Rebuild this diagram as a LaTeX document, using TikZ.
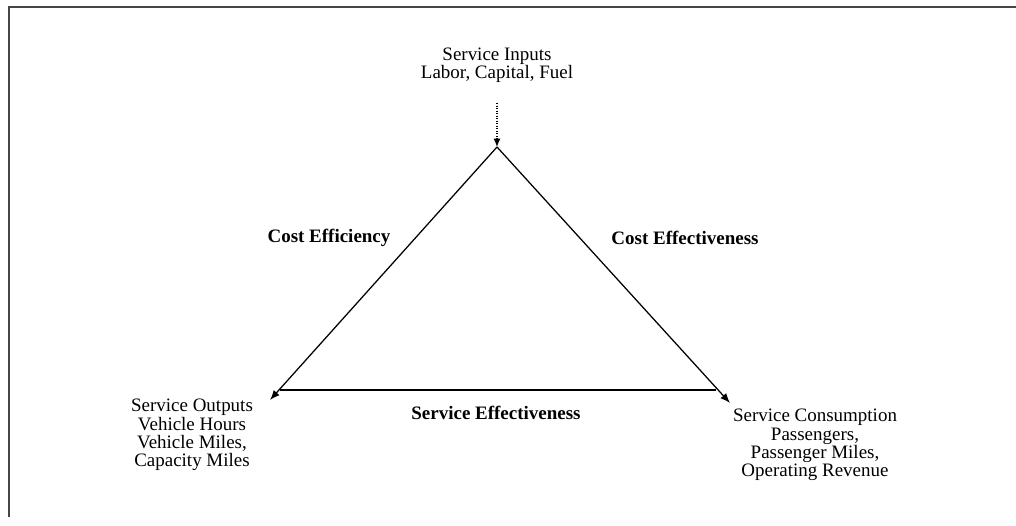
\documentclass[tikz,border=0pt]{standalone}
\usepackage{fontspec}
\setmainfont{Liberation Serif}
\usepackage{tikz}
\usetikzlibrary{arrows.meta}
\definecolor{frameline}{RGB}{70,70,70}

\begin{document}
\begin{tikzpicture}[
    txt/.style={align=center, font=\fontsize{13.5}{13}\selectfont, inner sep=1pt},
    lbl/.style={font=\fontsize{13.5}{13}\selectfont\bfseries, inner sep=1pt},
    arrow/.style={-{Latex[length=7pt,width=5.5pt]}, line width=0.9pt},
    feed/.style={-{Latex[length=6pt,width=5pt]}, densely dotted, line width=0.8pt}
]
    \useasboundingbox (0,0) rectangle (25.4,13.125);

    % Frame
    \draw[frameline, line width=1pt] (0.225,0.2) -- (0.225,12.95) -- (25.4,12.95);

    % Corners of the triangle
    \coordinate (top) at (12.425,9.45);
    \coordinate (left) at (6.75,3.125);
    \coordinate (right) at (18.25,3.05);
    \coordinate (bl) at (7.0,3.375);
    \coordinate (br) at (17.9,3.375);
    \coordinate (feedstart) at (12.425,10.55);

    % Service inputs
    \node[txt] (inputs) at (12.425,11.5) {Service Inputs\\Labor, Capital, Fuel};
    \draw[feed] (feedstart) -- (top);

    % Sides
    \draw[arrow] (top) -- (left);
    \draw[arrow] (top) -- (right);
    \draw[line width=0.9pt] (bl) -- (br);

    % Side labels
    \node[lbl] (costeff) at (8.225,7.175) {Cost Efficiency};
    \node[lbl] (costeffect) at (17.125,7.175) {Cost Effectiveness};
    \node[lbl] (serveffect) at (12.4,2.8) {Service Effectiveness};

    % Outputs and consumption
    \node[txt] (outputs) at (4.8,2.25) {Service Outputs\\Vehicle Hours\\Vehicle Miles,\\Capacity Miles};
    \node[txt] (consumption) at (20.375,2.0) {Service Consumption\\Passengers,\\Passenger Miles,\\Operating Revenue};
\end{tikzpicture}
\end{document}
